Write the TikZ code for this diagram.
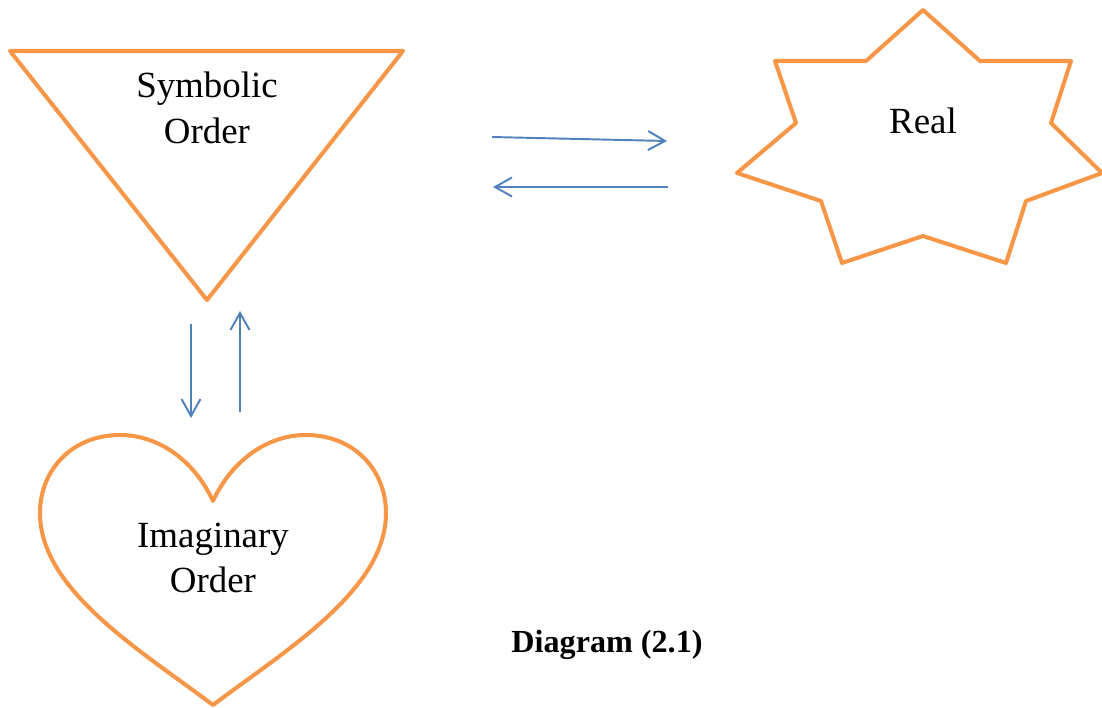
\documentclass[tikz,border=0pt]{standalone}
\usepackage{fontspec}
\setmainfont{Liberation Serif}
\usetikzlibrary{arrows.meta}

\definecolor{lacanorange}{HTML}{F79646}
\definecolor{lacanblue}{HTML}{4F81BD}

\tikzstyle{orderline}=[draw=lacanorange, line width=2.3pt, line join=round]
\tikzstyle{flow}=[draw=lacanblue, line width=1.1pt, -{Straight Barb[length=3.4mm,width=3.8mm]}]
\tikzstyle{ordername}=[align=center, inner sep=0pt, font=\fontsize{21}{25.9}\selectfont]

\begin{document}
\begin{tikzpicture}[x=0.2mm, y=-0.2mm]
  \useasboundingbox (0,0) rectangle (1102,708);

  % symbolic order: the inverted triangle
  \draw[orderline] (10,51) -- (403,51) -- (207,300) -- cycle;
  \node[ordername] (symbolic) at (207,108) {Symbolic\\Order};

  % real: seven pointed star
  \draw[orderline] (923,10) -- (980,61) -- (1071,61) -- (1051,123) -- (1102,173)
    -- (1026,201) -- (1006,263) -- (923,236) -- (842,263) -- (821,201)
    -- (737,173) -- (796,123) -- (775,61) -- (866,61) -- cycle;
  \node[ordername, anchor=base] (real) at (923,133) {Real};

  % imaginary order: the heart
  \draw[orderline] (213,501)
    .. controls (195,462) and (160,435) .. (120,435)
    .. controls (72,435) and (40,470) .. (40,513)
    .. controls (40,590) and (140,650) .. (213,705)
    .. controls (286,650) and (386,590) .. (386,513)
    .. controls (386,470) and (354,435) .. (306,435)
    .. controls (266,435) and (231,462) .. (213,501) -- cycle;
  \node[ordername] (imaginary) at (213,558) {Imaginary\\Order};

  % arrow ends
  \coordinate (sr1) at (492,137);
  \coordinate (sr2) at (667,141);
  \coordinate (rs1) at (668,187);
  \coordinate (rs2) at (493,187);
  \coordinate (si1) at (191,324);
  \coordinate (si2) at (191,418);
  \coordinate (is1) at (240,412);
  \coordinate (is2) at (240,311);

  \draw[flow] (sr1) -- (sr2);
  \draw[flow] (rs1) -- (rs2);
  \draw[flow] (si1) -- (si2);
  \draw[flow] (is1) -- (is2);

  \node[inner sep=0pt, anchor=base, font=\fontsize{18.3}{22}\selectfont\bfseries] (caption) at (607,652) {Diagram (2.1)};
\end{tikzpicture}
\end{document}
